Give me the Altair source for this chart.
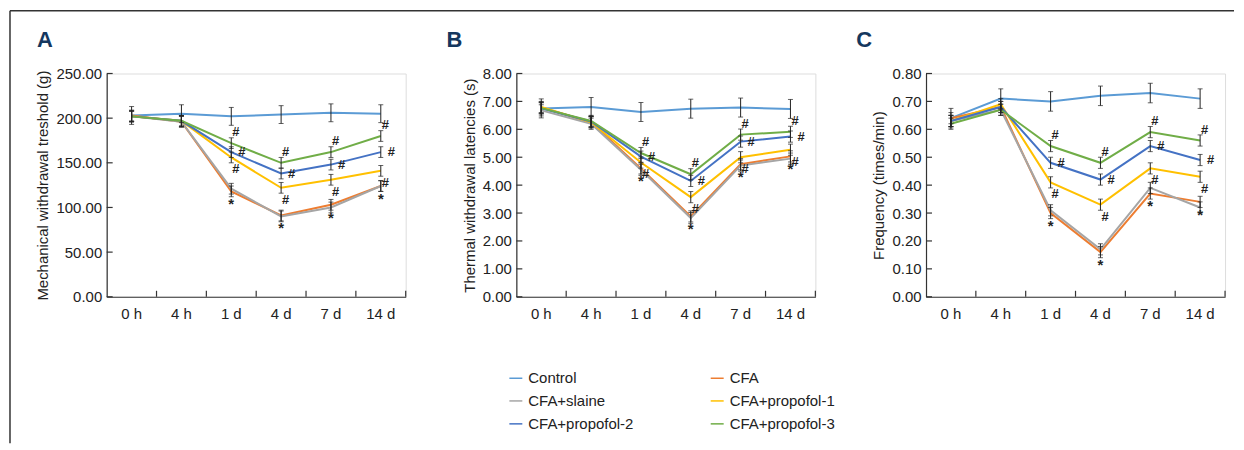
import altair as alt
import pandas as pd

FONT = "Liberation Sans, Arial, sans-serif"
FS = 15

times = ["0 h", "4 h", "1 d", "4 d", "7 d", "14 d"]
series = ["Control", "CFA", "CFA+slaine", "CFA+propofol-1", "CFA+propofol-2", "CFA+propofol-3"]
colors = ["#5B9BD5", "#ED7D31", "#A5A5A5", "#FFC000", "#4472C4", "#70AD47"]

# Panel A: Mechanical withdrawal threshold (g)
a_control = [203, 205, 202, 204, 206, 205]
a_cfa = [203, 196, 118, 91, 103, 124]
a_saline = [202, 196, 121, 90, 100, 124]
a_p1 = [202, 197, 156, 122, 131, 141]
a_p2 = [202, 197, 162, 138, 148, 162]
a_p3 = [202, 197, 172, 150, 162, 180]
a_sd = [10, 6, 6, 6, 6, 6]
a_ticks = [0, 50, 100, 150, 200, 250]

# Panel B: Thermal withdrawal latencies (s)
b_control = [6.75, 6.80, 6.62, 6.74, 6.78, 6.73]
b_cfa = [6.78, 6.26, 4.60, 2.88, 4.75, 5.03]
b_saline = [6.68, 6.20, 4.55, 2.82, 4.70, 4.95]
b_p1 = [6.80, 6.25, 4.81, 3.57, 5.00, 5.27]
b_p2 = [6.75, 6.28, 5.02, 4.15, 5.56, 5.74]
b_p3 = [6.76, 6.30, 5.15, 4.39, 5.81, 5.91]
b_sd = [0.34, 0.2, 0.2, 0.2, 0.2, 0.2]
b_ticks = [0, 1, 2, 3, 4, 5, 6, 7, 8]

# Panel C: Frequency (times/min)
c_control = [0.64, 0.71, 0.70, 0.72, 0.73, 0.71]
c_cfa = [0.64, 0.68, 0.30, 0.16, 0.37, 0.34]
c_saline = [0.63, 0.67, 0.31, 0.17, 0.39, 0.32]
c_p1 = [0.63, 0.69, 0.41, 0.33, 0.46, 0.43]
c_p2 = [0.63, 0.68, 0.48, 0.42, 0.54, 0.49]
c_p3 = [0.62, 0.67, 0.54, 0.48, 0.59, 0.56]
c_sd = [0.035, 0.02, 0.02, 0.02, 0.02, 0.02]
c_ticks = [0, 0.1, 0.2, 0.3, 0.4, 0.5, 0.6, 0.7, 0.8]

hash_series = ["CFA+propofol-1", "CFA+propofol-2", "CFA+propofol-3"]
star_series = ["CFA"]
marked_times = ["1 d", "4 d", "7 d", "14 d"]
# pixel offsets (dx, dy) of each group's "#" marker relative to its point
hash_offsets = {"CFA+propofol-1": (1, 12), "CFA+propofol-2": (7, 0),
                "CFA+propofol-3": (1, -11)}

W, H = 300, 224
BAND = alt.Scale(type="band", paddingInner=0, paddingOuter=0)


def long_df(vals, sds):
    rows = []
    for s, v, sd in zip(series, vals, sds):
        for t, y in zip(times, v):
            rows.append({"time": t, "series": s, "value": y, "lo": y - sd, "hi": y + sd})
    return pd.DataFrame(rows)


def make_panel(letter, vals, sds, ticks, ytitle, frame=False):
    df = long_df(vals, sds)
    xaxis = alt.Axis(title=None, labelAngle=0, tickSize=0, labelFont=FONT,
                     labelFontSize=FS, labelColor="#222", labelPadding=10,
                     domainColor="#333", domainWidth=1.2)
    yaxis = alt.Axis(title=ytitle, values=ticks, format=".2f", tickSize=0,
                     grid=False, labelFont=FONT, labelFontSize=FS,
                     labelOverlap=False,
                     labelColor="#222", labelPadding=5, domainColor="#333",
                     domainWidth=1.2, titleFont=FONT, titleFontSize=FS,
                     titleFontWeight="normal", titleColor="#222",
                     titlePadding=5)
    xenc = alt.X("time:N", sort=times, scale=BAND, axis=xaxis)
    yscale = alt.Scale(domain=[ticks[0], ticks[-1]], nice=False)

    def Y(field):
        return alt.Y(field, scale=yscale, axis=yaxis)

    base = alt.Chart(df)
    err = base.mark_rule(color="#222", strokeWidth=1).encode(
        x=xenc, y=Y("lo:Q"), y2="hi:Q")
    caps_df = pd.concat([
        df[["time", "series", "lo"]].rename(columns={"lo": "cap"}),
        df[["time", "series", "hi"]].rename(columns={"hi": "cap"}),
    ])
    caps = alt.Chart(caps_df).mark_tick(color="#222", thickness=1, size=5,
                                        orient="horizontal").encode(
        x=xenc, y=Y("cap:Q"))
    lines = base.mark_line(strokeWidth=2).encode(
        x=xenc, y=Y("value:Q"),
        color=alt.Color("series:N", sort=series,
                        scale=alt.Scale(domain=series, range=colors),
                        legend=alt.Legend(title=None, orient="none", legendX=403,
                                          legendY=298, columns=2, columnPadding=74,
                                          direction="horizontal",
                                          rowPadding=7, symbolType="stroke",
                                          symbolSize=169, symbolStrokeWidth=1.5,
                                          labelFont=FONT, labelFontSize=FS,
                                          labelColor="#222", labelOffset=5)),
        detail="series:N",
    )
    hash_layers = []
    for s in hash_series:
        hdf = df[(df.series == s) & df.time.isin(marked_times)].assign(lab="#")
        dx, dy = hash_offsets[s]
        hash_layers.append(alt.Chart(hdf).mark_text(
            dx=dx, dy=dy, align="left", fontSize=13, fontWeight="bold",
            color="#222", font=FONT).encode(x=xenc, y=Y("value:Q"), text="lab:N"))
    sdf = df[df.series.isin(star_series) & df.time.isin(marked_times)].assign(lab="*")
    stars = alt.Chart(sdf).mark_text(dy=13, fontSize=15, fontWeight="bold",
                                     color="#222", font=FONT).encode(
        x=xenc, y=Y("value:Q"), text="lab:N")
    ytick = alt.Chart(pd.DataFrame({"v": ticks})).mark_rule(
        color="#333", strokeWidth=1.2).encode(
        y=Y("v:Q"), x=alt.value(0), x2=alt.value(6))
    xtick0 = alt.Chart(pd.DataFrame({"time": times[1:]})).mark_rule(
        color="#333", strokeWidth=1.2).encode(
        x=alt.X("time:N", sort=times, bandPosition=0, scale=BAND, axis=xaxis),
        y=alt.value(H - 6), y2=alt.value(H))
    xtick1 = alt.Chart(pd.DataFrame({"time": times[-1:]})).mark_rule(
        color="#333", strokeWidth=1.2).encode(
        x=alt.X("time:N", sort=times, bandPosition=1, scale=BAND, axis=xaxis),
        y=alt.value(H - 6), y2=alt.value(H))
    label = alt.Chart(pd.DataFrame({"letter": [letter]})).mark_text(
        align="left", baseline="bottom", fontSize=22, fontWeight="bold",
        color="#14375E", font=FONT).encode(
        text="letter:N", x=alt.value(-70), y=alt.value(-22))
    layers = [lines, err, caps] + hash_layers + [stars, ytick, xtick0, xtick1, label]
    if frame:
        fdf = pd.DataFrame({"k": [0]})
        vline = alt.Chart(fdf).mark_rule(color="#333", strokeWidth=1.5).encode(
            x=alt.value(-97), y=alt.value(-63), y2=alt.value(371))
        hline = alt.Chart(fdf).mark_rule(color="#333", strokeWidth=1.5).encode(
            x=alt.value(-97), x2=alt.value(1131), y=alt.value(-63))
        layers += [vline, hline]
    return alt.layer(*layers).properties(width=W, height=H)


pa = make_panel("A", [a_control, a_cfa, a_saline, a_p1, a_p2, a_p3], a_sd, a_ticks,
                "Mechanical withdrawal treshold (g)", frame=True)
pb = make_panel("B", [b_control, b_cfa, b_saline, b_p1, b_p2, b_p3], b_sd, b_ticks,
                "Thermal withdrawal latencies (s)")
pc = make_panel("C", [c_control, c_cfa, c_saline, c_p1, c_p2, c_p3], c_sd, c_ticks,
                "Frequency (times/min)")

chart = alt.hconcat(pa, pb, pc, spacing=111, bounds="flush").properties(
    padding={"left": 0, "top": 0, "right": 0, "bottom": 0}
).configure_view(stroke=None).configure(background="white")

chart.save("out.html", embed_options={"renderer": "svg", "actions": False})
